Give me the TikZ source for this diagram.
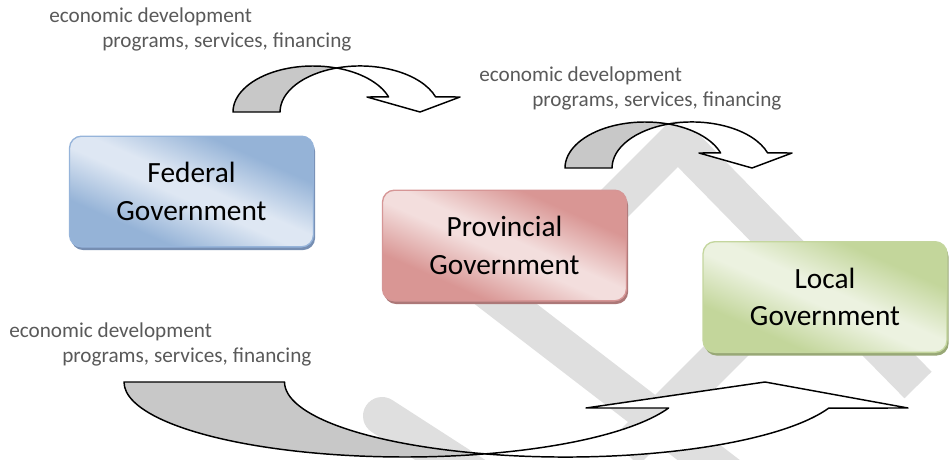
\documentclass[tikz,border=0pt]{standalone}
\usepackage{fontspec}
\setmainfont{Carlito}
\usetikzlibrary{shadows}

\definecolor{notegray}{RGB}{89,89,89}
\definecolor{arrowgray}{RGB}{200,200,200}
\definecolor{wmgray}{RGB}{223,223,223}
\definecolor{fedcorner}{RGB}{149,179,215}
\definecolor{fedmid}{RGB}{222,231,243}
\definecolor{fedline}{RGB}{150,180,218}
\definecolor{fedshadow}{RGB}{118,142,178}
\definecolor{provcorner}{RGB}{217,150,148}
\definecolor{provmid}{RGB}{243,222,221}
\definecolor{provline}{RGB}{214,150,150}
\definecolor{provshadow}{RGB}{172,120,120}
\definecolor{loccorner}{RGB}{195,214,155}
\definecolor{locmid}{RGB}{236,242,224}
\definecolor{locline}{RGB}{196,214,158}
\definecolor{locshadow}{RGB}{152,168,118}

% diagonal fills of the three boxes
\pgfdeclareverticalshading{fedshade}{100bp}{color(0bp)=(fedcorner); color(31bp)=(fedcorner);
  color(47bp)=(fedmid); color(53bp)=(fedmid); color(69bp)=(fedcorner); color(100bp)=(fedcorner)}
\pgfdeclareverticalshading{provshade}{100bp}{color(0bp)=(provcorner); color(31bp)=(provcorner);
  color(47bp)=(provmid); color(53bp)=(provmid); color(69bp)=(provcorner); color(100bp)=(provcorner)}
\pgfdeclareverticalshading{locshade}{100bp}{color(0bp)=(loccorner); color(31bp)=(loccorner);
  color(47bp)=(locmid); color(53bp)=(locmid); color(69bp)=(loccorner); color(100bp)=(loccorner)}

\tikzset{
  wmark/.style={draw=wmgray, line width=28.5pt},
  curvarrow/.style={draw=black, line width=1.1pt, line join=round},
  note/.style={anchor=base west, inner sep=0pt, text=notegray, font=\fontsize{15.9}{19}\selectfont},
  govbox/.style={draw, line width=1pt, rounded corners=9pt, minimum width=183pt, minimum height=83pt,
    inner sep=0.75pt, align=center, font=\fontsize{22}{28}\selectfont},
  fedbox/.style={govbox, draw=fedline, shade, shading=fedshade, shading angle=-24,
    drop shadow={shadow xshift=1.2pt, shadow yshift=-2.4pt, fill=fedshadow, opacity=1}},
  provbox/.style={govbox, draw=provline, shade, shading=provshade, shading angle=-24,
    drop shadow={shadow xshift=1.2pt, shadow yshift=-2.4pt, fill=provshadow, opacity=1}},
  locbox/.style={govbox, draw=locline, shade, shading=locshade, shading angle=-24,
    drop shadow={shadow xshift=1.2pt, shadow yshift=-2.4pt, fill=locshadow, opacity=1}}
}

\begin{document}
\begin{tikzpicture}[x=0.75pt,y=0.75pt,yscale=-1,xscale=1]
\useasboundingbox (0,0) rectangle (949,460);

%Straight Lines: background bands
\draw [wmark, line join=round] (610,208) -- (678,140) -- (918,385) ;
\draw [wmark] (455,265) -- (745,488) ;
\draw [wmark, line cap=round] (382,416) -- (520,505) ;
\draw [wmark] (625,452) -- (800,277) ;

%Shape: Curved Down Arrow (back)
\draw [curvarrow, fill=arrowgray] (233,112) arc [start angle=180, end angle=287.1, x radius=80, y radius=46]
  arc [start angle=252.9, end angle=180, x radius=80, y radius=46] -- cycle ;
%Shape: Curved Down Arrow (front)
\draw [curvarrow, fill=white] (336.5,68) arc [start angle=252.9, end angle=340.9, x radius=80, y radius=46]
  -- (460,97) -- (420,112) -- (367,97) -- (388.6,96.9)
  arc [start angle=340.9, end angle=287.1, x radius=80, y radius=46] -- cycle ;

%Shape: Curved Down Arrow (back)
\draw [curvarrow, fill=arrowgray] (565,168) arc [start angle=180, end angle=287.1, x radius=80, y radius=46]
  arc [start angle=252.9, end angle=180, x radius=80, y radius=46] -- cycle ;
%Shape: Curved Down Arrow (front)
\draw [curvarrow, fill=white] (668.5,124) arc [start angle=252.9, end angle=340.9, x radius=80, y radius=46]
  -- (792,153) -- (752,168) -- (699,153) -- (720.6,152.9)
  arc [start angle=340.9, end angle=287.1, x radius=80, y radius=46] -- cycle ;

%Shape: Curved Up Arrow (back)
\draw [curvarrow, fill=arrowgray] (124,382) arc [start angle=180, end angle=73.4, x radius=281, y radius=75]
  arc [start angle=106.6, end angle=180, x radius=281, y radius=75] -- cycle ;
%Shape: Curved Up Arrow (front)
\draw [curvarrow, fill=white] (485,453.9) arc [start angle=106.6, end angle=20.3, x radius=281, y radius=75]
  -- (908,408) -- (765,382) -- (586,408) -- (668.6,408)
  arc [start angle=20.3, end angle=73.4, x radius=281, y radius=75] -- cycle ;

% Text Node
\draw (49,23) node [note] (econA) {economic development};
% Text Node
\draw (102,48) node [note] (progA) {programs, services, financing};
% Text Node
\draw (479,82) node [note] (econB) {economic development};
% Text Node
\draw (532,107) node [note] (progB) {programs, services, financing};
% Text Node
\draw (9,337) node [note] (econC) {economic development};
% Text Node
\draw (62,362) node [note] (progC) {programs, services, financing};

%Shape: Rounded Rect
\draw (191.5,191.5) node [fedbox] (federal) {Federal\\Government};
%Shape: Rounded Rect
\draw (504.5,245.5) node [provbox] (provincial) {Provincial\\Government};
%Shape: Rounded Rect
\draw (825,297) node [locbox] (local) {Local\\Government};

\end{tikzpicture}
\end{document}
